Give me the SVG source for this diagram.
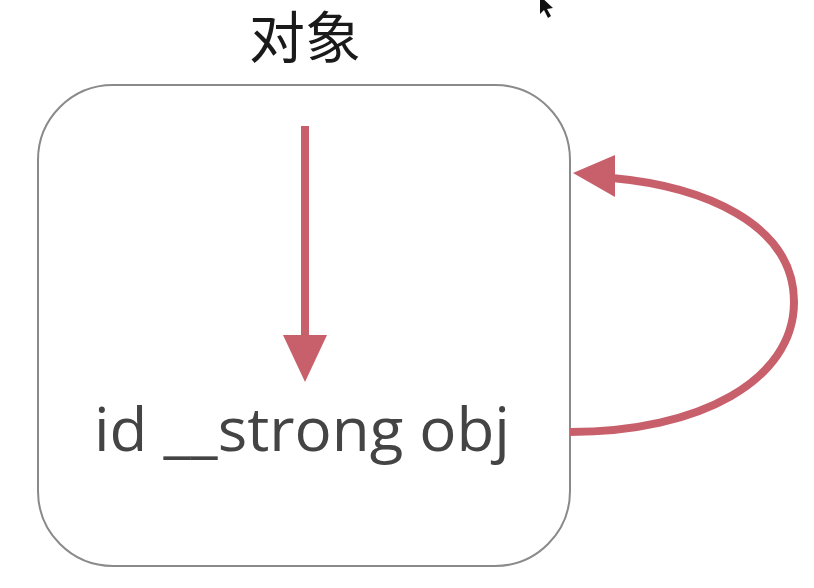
<svg xmlns="http://www.w3.org/2000/svg" width="814" height="588" viewBox="0 0 814 588">
<defs>
<style>
.box{fill:#ffffff;stroke:#8a8a8a;stroke-width:2}
.conn{fill:none;stroke:#c8606c;stroke-width:8}
.head{fill:#c8606c}
.title{font-family:"Noto Sans CJK SC","Noto Sans",sans-serif;font-size:56px;fill:#1a1a1a}
.label{font-family:"Open Sans","Noto Sans",sans-serif;font-size:60px;fill:#444444}
</style>
</defs>
<rect width="814" height="588" fill="#ffffff"/>
<g id="title">
<text class="title" x="305" y="58" text-anchor="middle">对象</text>
</g>
<g id="object">
<rect class="box" x="38" y="85" width="532" height="481" rx="75" ry="75"/>
<text class="label" x="302" y="451" text-anchor="middle" textLength="416" lengthAdjust="spacingAndGlyphs">id __strong obj</text>
</g>
<g id="connectors">
<line class="conn" x1="305" y1="126" x2="305" y2="340"/>
<polygon class="head" points="283,335 327,335 305,382"/>
<path class="conn" d="M570,432 C700,432 794,380 794,302 C794,222 700,186 612,178"/>
<polygon class="head" points="573,173 615,155 615,197"/>
</g>
<g id="cursor">
<polygon points="540,-4 540,14 544,10 548,18 551,16 547,9 553,8" fill="#111111"/>
</g>
</svg>
